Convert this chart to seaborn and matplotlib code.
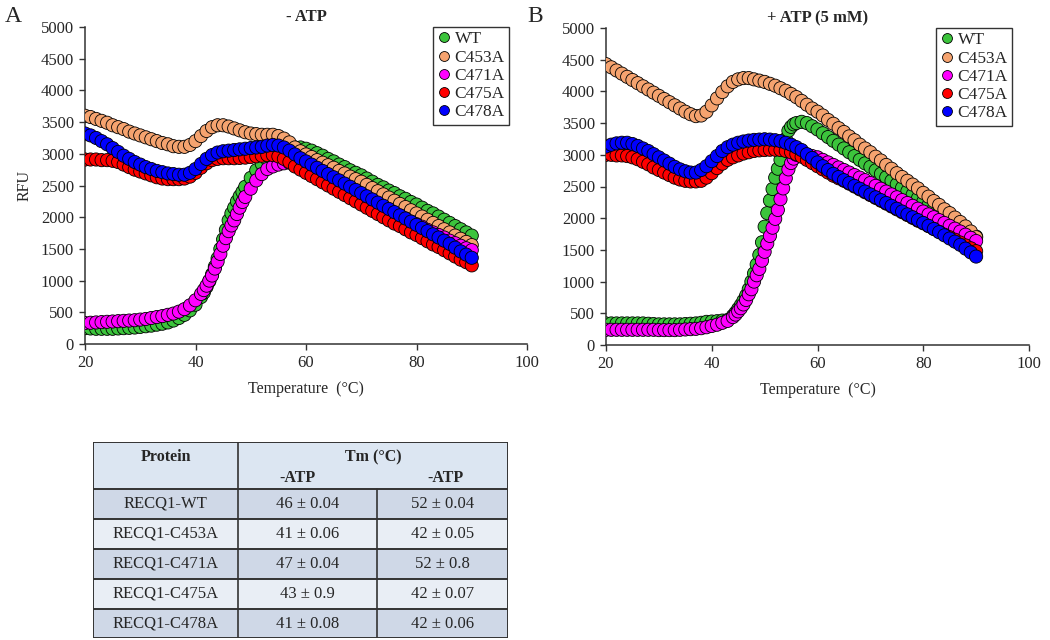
import numpy as np
import pandas as pd
import matplotlib
matplotlib.use("Agg")
import matplotlib.pyplot as plt
import seaborn as sns

# ===== DATA =====
temps = np.arange(20, 91)  # 1 °C steps, 20 -> 90
proteins = ["WT", "C453A", "C471A", "C475A", "C478A"]
colors = ["#3cc43c", "#f5a36f", "#ff00ff", "#ff0000", "#0000ff"]

# - ATP
a_wt = [250, 245, 240, 240, 240, 240, 245, 250, 255, 260,
        270, 280, 290, 305, 320, 340, 370, 410, 460, 530,
        620, 740, 900, 1100, 1350, 1650, 1950, 2150, 2330, 2480,
        2620, 2740, 2840, 2910, 2970, 3020, 3060, 3090, 3100, 3100,
        3080, 3050, 3010, 2970, 2920, 2880, 2830, 2790, 2740, 2700,
        2660, 2610, 2560, 2510, 2470, 2420, 2380, 2330, 2290, 2240,
        2200, 2150, 2100, 2060, 2010, 1960, 1910, 1860, 1810, 1760,
        1710]
a_c453a = [3600, 3580, 3550, 3520, 3490, 3450, 3420, 3390, 3350, 3320,
           3290, 3260, 3230, 3200, 3170, 3150, 3120, 3110, 3110, 3140,
           3200, 3280, 3360, 3420, 3450, 3450, 3430, 3400, 3370, 3340,
           3320, 3310, 3300, 3300, 3300, 3280, 3240, 3180, 3100, 3040,
           2990, 2950, 2900, 2860, 2820, 2780, 2730, 2690, 2640, 2600,
           2560, 2510, 2460, 2410, 2360, 2310, 2260, 2210, 2160, 2110,
           2060, 2010, 1960, 1910, 1860, 1810, 1760, 1710, 1660, 1610,
           1560]
a_c471a = [330, 335, 340, 345, 350, 355, 360, 365, 370, 375,
           385, 395, 410, 425, 440, 460, 480, 510, 550, 610,
           690, 790, 920, 1080, 1300, 1550, 1780, 1950, 2150, 2320,
           2450, 2580, 2680, 2760, 2800, 2830, 2850, 2860, 2850, 2820,
           2780, 2740, 2690, 2650, 2600, 2560, 2510, 2470, 2420, 2380,
           2330, 2290, 2240, 2200, 2150, 2110, 2060, 2020, 1980, 1930,
           1890, 1850, 1800, 1760, 1720, 1680, 1630, 1590, 1550, 1510,
           1480]
a_c475a = [2910, 2910, 2910, 2900, 2900, 2890, 2870, 2830, 2790, 2750,
           2720, 2690, 2660, 2630, 2610, 2600, 2600, 2600, 2610, 2640,
           2700, 2780, 2850, 2900, 2920, 2930, 2930, 2930, 2935, 2940,
           2950, 2960, 2970, 2980, 2980, 2960, 2920, 2870, 2800, 2750,
           2700, 2650, 2600, 2550, 2500, 2450, 2400, 2350, 2300, 2250,
           2200, 2150, 2100, 2050, 2000, 1950, 1900, 1860, 1810, 1760,
           1720, 1670, 1620, 1570, 1530, 1480, 1430, 1380, 1330, 1290,
           1240]
a_c478a = [3320, 3290, 3250, 3200, 3150, 3090, 3030, 2970, 2920, 2870,
           2830, 2790, 2760, 2730, 2710, 2690, 2680, 2670, 2670, 2700,
           2760, 2840, 2920, 2980, 3020, 3040, 3050, 3060, 3070, 3080,
           3090, 3100, 3110, 3130, 3140, 3130, 3100, 3050, 2990, 2930,
           2880, 2830, 2780, 2730, 2680, 2630, 2580, 2530, 2480, 2430,
           2380, 2330, 2280, 2230, 2180, 2130, 2080, 2030, 1980, 1930,
           1880, 1830, 1780, 1730, 1680, 1630, 1580, 1520, 1460, 1410,
           1360]

# extra readings at half degrees on the steep melting part (- ATP)
a_rise_t = [41.5, 42.5, 43.5, 44.5, 45.5, 46.5, 47.5, 48.5]
a_wt_rise = [810, 990, 1220, 1500, 1800, 2060, 2250, 2400]
a_c471a_rise = [850, 1000, 1190, 1420, 1670, 1870, 2050, 2240]

# + ATP (5 mM)
b_wt = [340, 340, 340, 340, 340, 340, 340, 340, 335, 330,
        325, 325, 325, 325, 325, 330, 335, 340, 350, 365,
        370, 375, 385, 395, 460, 570, 700, 880, 1130, 1420,
        1866, 2280, 2640, 2920, 3250, 3440, 3500, 3520, 3500, 3450,
        3400, 3340, 3280, 3220, 3160, 3100, 3040, 2980, 2920, 2865,
        2810, 2755, 2700, 2645, 2590, 2535, 2480, 2425, 2370, 2315,
        2260, 2205, 2150, 2095, 2040, 1985, 1930, 1875, 1820, 1765,
        1710]
b_c453a = [4430, 4380, 4330, 4280, 4230, 4180, 4130, 4080, 4030, 3980,
           3930, 3880, 3830, 3780, 3730, 3680, 3640, 3610, 3620, 3680,
           3780, 3890, 3990, 4080, 4150, 4190, 4210, 4210, 4190, 4170,
           4150, 4120, 4090, 4050, 4010, 3960, 3910, 3850, 3790, 3730,
           3680, 3620, 3550, 3490, 3420, 3360, 3290, 3230, 3160, 3100,
           3040, 2970, 2910, 2840, 2780, 2710, 2650, 2590, 2530, 2470,
           2400, 2340, 2270, 2210, 2140, 2080, 2010, 1940, 1870, 1790,
           1700]
b_c471a = [240, 240, 240, 240, 240, 240, 240, 240, 240, 240,
           235, 235, 235, 235, 240, 245, 250, 255, 265, 280,
           300, 320, 350, 380, 440, 530, 640, 800, 1000, 1200,
           1470, 1720, 1990, 2300, 2630, 2870, 3000, 3030, 3000, 2980,
           2960, 2920, 2880, 2840, 2800, 2760, 2720, 2680, 2640, 2600,
           2555, 2510, 2465, 2420, 2375, 2330, 2285, 2240, 2195, 2150,
           2105, 2060, 2015, 1970, 1925, 1880, 1835, 1790, 1740, 1690,
           1640]
b_c475a = [3000, 3000, 2990, 2990, 2980, 2960, 2930, 2890, 2850, 2800,
           2760, 2720, 2680, 2640, 2610, 2590, 2580, 2580, 2590, 2640,
           2710, 2790, 2860, 2920, 2960, 2990, 3020, 3040, 3060, 3070,
           3075, 3080, 3080, 3075, 3060, 3040, 3010, 2970, 2920, 2870,
           2820, 2770, 2720, 2670, 2630, 2590, 2545, 2500, 2455, 2410,
           2365, 2320, 2275, 2230, 2185, 2140, 2095, 2050, 2005, 1960,
           1920, 1875, 1830, 1785, 1740, 1700, 1660, 1615, 1570, 1525,
           1480]
b_c478a = [3130, 3160, 3180, 3190, 3190, 3170, 3140, 3100, 3060, 3010,
           2960, 2910, 2860, 2810, 2770, 2740, 2720, 2720, 2760, 2820,
           2900, 2980, 3060, 3120, 3160, 3190, 3210, 3225, 3235, 3240,
           3245, 3240, 3230, 3215, 3190, 3160, 3120, 3075, 3010, 2950,
           2880, 2820, 2760, 2700, 2650, 2600, 2555, 2510, 2465, 2420,
           2375, 2330, 2285, 2240, 2195, 2150, 2105, 2060, 2015, 1970,
           1925, 1880, 1830, 1780, 1730, 1680, 1630, 1580, 1520, 1460,
           1395]

# extra readings at half degrees on the steep melting part (+ ATP)
b_rise_t = [44.5, 45.5, 46.5, 47.5, 48.5, 49.5, 50.5, 51.5, 52.5, 53.5, 54.5, 55.5]
b_wt_rise = [510, 630, 780, 1000, 1270, 1620, 2080, 2460, 2780, 3080, 3380, 3480]
b_c471a_rise = [480, 580, 710, 880, 1100, 1330, 1600, 1850, 2130, 2470, 2770, 2940]

# Table
table_proteins = ["RECQ1-WT", "RECQ1-C453A", "RECQ1-C471A", "RECQ1-C475A", "RECQ1-C478A"]
tm_no_atp = ["46 ± 0.04", "41 ± 0.06", "47 ± 0.04", "43 ± 0.9", "41 ± 0.08"]
tm_atp = ["52 ± 0.04", "42 ± 0.05", "52 ± 0.8", "42 ± 0.07", "42 ± 0.06"]


def long_df(series, extras):
    frames = []
    for name, vals in zip(proteins, series):
        d = pd.DataFrame({"Temperature": temps, "RFU": vals, "Protein": name})
        if name in extras:
            t_x, v_x = extras[name]
            d = pd.concat([d, pd.DataFrame({"Temperature": t_x, "RFU": v_x, "Protein": name})])
        frames.append(d.sort_values("Temperature"))
    return pd.concat(frames, ignore_index=True)


df_a = long_df([a_wt, a_c453a, a_c471a, a_c475a, a_c478a],
               {"WT": (a_rise_t, a_wt_rise), "C471A": (a_rise_t, a_c471a_rise)})
df_b = long_df([b_wt, b_c453a, b_c471a, b_c475a, b_c478a],
               {"WT": (b_rise_t, b_wt_rise), "C471A": (b_rise_t, b_c471a_rise)})

# ===== STYLE =====
sns.set_style("white")
plt.rcParams["font.family"] = ["Liberation Serif", "DejaVu Serif"]

W, H = 1050, 640
fig = plt.figure(figsize=(W / 100, H / 100), dpi=100)
palette = dict(zip(proteins, colors))


def px_axes(x0, y0, x1, y1):
    return fig.add_axes([x0 / W, 1 - y1 / H, (x1 - x0) / W, (y1 - y0) / H])


def draw_panel(ax, df, title, ylabel):
    sns.scatterplot(data=df, x="Temperature", y="RFU", hue="Protein",
                    palette=palette, s=90, edgecolor="black", linewidth=0.6,
                    ax=ax, zorder=3)
    ax.set_xlim(20, 100)
    ax.set_ylim(0, 5000)
    ax.set_xticks(range(20, 101, 20))
    ax.set_yticks(range(0, 5001, 500))
    for s in ["top", "right"]:
        ax.spines[s].set_visible(False)
    for s in ["left", "bottom"]:
        ax.spines[s].set_color("#333333")
        ax.spines[s].set_linewidth(1.1)
    ax.tick_params(axis="both", direction="out", length=4, width=1.0,
                   color="#333333", labelsize=12, pad=4,
                   left=True, bottom=True)
    ax.set_xlabel("Temperature  (°C)", fontsize=11.5, labelpad=7)
    ax.set_ylabel(ylabel, fontsize=11.5, labelpad=6)
    ax.set_title(title, fontsize=12, fontweight="bold", pad=4)
    leg = ax.legend(loc="upper right", bbox_to_anchor=(0.96, 1.0),
                    frameon=True, fancybox=False, edgecolor="black",
                    fontsize=12.5, handlelength=0.8, handletextpad=0.2,
                    borderpad=0.25, labelspacing=0.12, borderaxespad=0,
                    markerscale=0.75)
    leg.get_frame().set_linewidth(1.0)


ax_a = px_axes(85, 27, 527, 344)
draw_panel(ax_a, df_a, "- ATP", "RFU")
ax_b = px_axes(606, 28, 1029, 345)
draw_panel(ax_b, df_b, "+ ATP (5 mM)", "")

fig.text(5 / W, 1 - 16 / H, "A", fontsize=17, va="center", ha="left")
fig.text(527 / W, 1 - 16 / H, "B", fontsize=17, va="center", ha="left")

# ===== TABLE =====
tab = px_axes(93, 442, 508, 638)
tab.set_xlim(93, 508)
tab.set_ylim(638, 442)
tab.axis("off")
col_x = [93, 238, 377, 508]
row_y = [442, 489, 519, 549, 579, 609, 638]
header_col = "#dce6f2"
dark_row = "#cfd8e7"
light_row = "#e9eef5"
edge = "#333333"

tab.add_patch(plt.Rectangle((col_x[0], row_y[0]), col_x[3] - col_x[0], row_y[1] - row_y[0],
                            facecolor=header_col, edgecolor="none"))
for i in range(len(table_proteins)):
    fc = dark_row if i % 2 == 0 else light_row
    tab.add_patch(plt.Rectangle((col_x[0], row_y[i + 1]), col_x[3] - col_x[0],
                                row_y[i + 2] - row_y[i + 1], facecolor=fc, edgecolor="none"))
# borders
for y in row_y:
    tab.plot([col_x[0], col_x[3]], [y, y], color=edge, lw=1.4, solid_capstyle="butt")
tab.plot([col_x[0], col_x[0]], [row_y[0], row_y[-1]], color=edge, lw=1.4)
tab.plot([col_x[3], col_x[3]], [row_y[0], row_y[-1]], color=edge, lw=1.4)
tab.plot([col_x[1], col_x[1]], [row_y[0], row_y[-1]], color=edge, lw=1.2)
tab.plot([col_x[2], col_x[2]], [row_y[1], row_y[-1]], color=edge, lw=1.2)

tab.text((col_x[0] + col_x[1]) / 2, 457, "Protein", ha="center", va="center",
         fontsize=11.5, fontweight="bold")
tab.text(373, 457, "Tm (°C)", ha="center", va="center", fontsize=11.5, fontweight="bold")
tab.text(297, 478, "-ATP", ha="center", va="center", fontsize=11.5, fontweight="bold")
tab.text(446, 478, "-ATP", ha="center", va="center", fontsize=11.5, fontweight="bold")
for i, (p, t1, t2) in enumerate(zip(table_proteins, tm_no_atp, tm_atp)):
    yc = (row_y[i + 1] + row_y[i + 2]) / 2
    tab.text((col_x[0] + col_x[1]) / 2, yc, p, ha="center", va="center", fontsize=12)
    tab.text((col_x[1] + col_x[2]) / 2, yc, t1, ha="center", va="center", fontsize=12)
    tab.text((col_x[2] + col_x[3]) / 2, yc, t2, ha="center", va="center", fontsize=12)

fig.savefig("out.png", dpi=100)
